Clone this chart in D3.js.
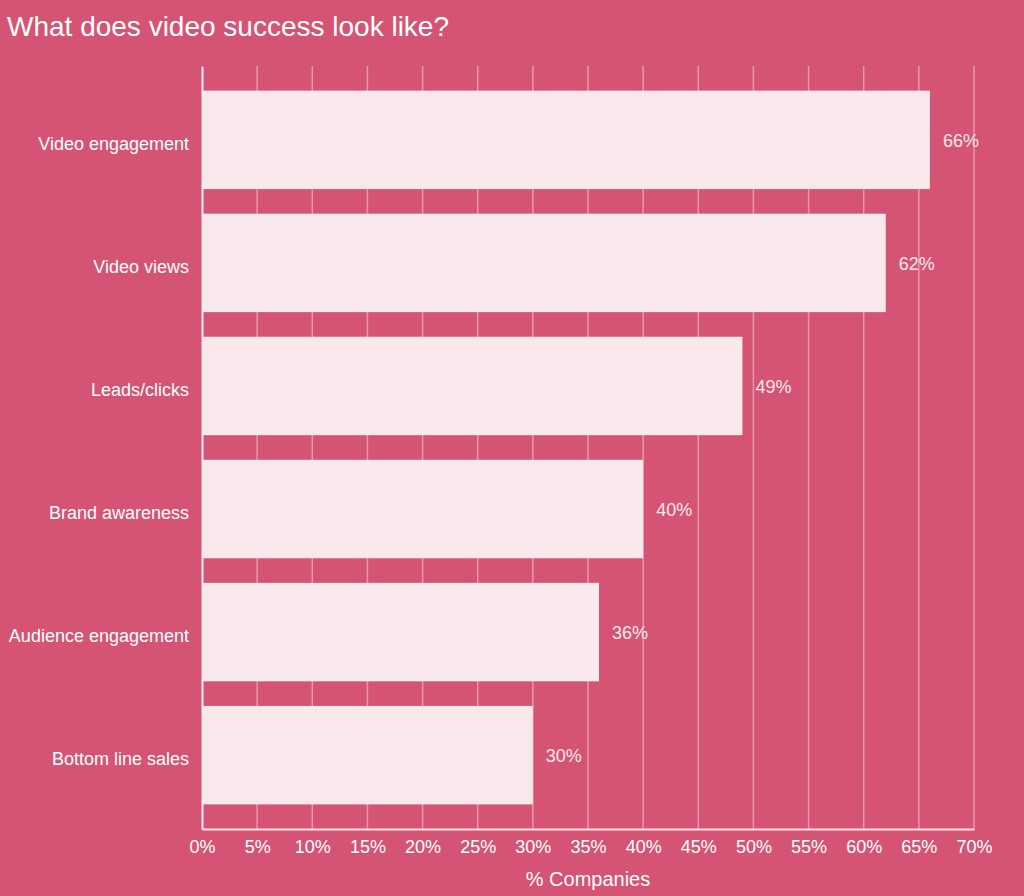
<!DOCTYPE html>
<html><head><meta charset="utf-8">
<script src="https://cdn.jsdelivr.net/npm/d3@7"></script>
<style>html,body{margin:0;padding:0;background:#d65473;}svg{display:block;font-family:"Liberation Sans",Arial,sans-serif;}</style>
</head><body>
<script>
const categories = ["Video engagement","Video views","Leads/clicks","Brand awareness","Audience engagement","Bottom line sales"];
const values = [66,62,49,40,36,30];
const tickValues = [0,5,10,15,20,25,30,35,40,45,50,55,60,65,70];
const title = "What does video success look like?";
const xTitle = "% Companies";

const W=1024,H=896;
const m={left:202,right:50,top:66,bottom:67};
const svg=d3.select("body").append("svg").attr("width",W).attr("height",H);
svg.append("rect").attr("width",W).attr("height",H).attr("fill","#d65473");
const x=d3.scaleLinear().domain([0,70]).range([m.left,W-m.right]);
const y=d3.scaleBand().domain(categories).range([m.top,H-m.bottom]).paddingInner(0.2).paddingOuter(0.2);

svg.append("text").attr("x",7).attr("y",36).attr("fill","#fff").attr("font-size",28).text(title);

// grid
svg.append("g").selectAll("line").data(tickValues.slice(1)).join("line")
 .attr("x1",d=>x(d)).attr("x2",d=>x(d)).attr("y1",m.top).attr("y2",H-m.bottom)
 .attr("stroke","rgba(255,255,255,0.4)").attr("stroke-width",1.5);

// bars
svg.append("g").selectAll("rect").data(values).join("rect")
 .attr("x",x(0)).attr("y",(d,i)=>y(categories[i])).attr("width",d=>x(d)-x(0)).attr("height",y.bandwidth())
 .attr("fill","#f9e9ec");

// value labels
svg.append("g").selectAll("text").data(values).join("text")
 .attr("x",d=>x(d)+13).attr("y",(d,i)=>y(categories[i])+y.bandwidth()/2+7)
 .attr("fill","#f9e9ec").attr("font-size",18).text(d=>d+"%");

// axes
const xAxis=svg.append("g").attr("transform",`translate(0,${H-m.bottom})`)
 .call(d3.axisBottom(x).tickValues(tickValues).tickFormat(d=>d+"%").tickSize(0).tickPadding(11));
xAxis.select(".domain").attr("stroke","#fbe9ee").attr("stroke-width",2);
xAxis.selectAll("text").attr("fill","#fff").attr("font-size",18).attr("font-family","Liberation Sans, Arial, sans-serif");

const yAxis=svg.append("g").attr("transform",`translate(${m.left},0)`)
 .call(d3.axisLeft(y).tickSize(0).tickPadding(13));
yAxis.select(".domain").attr("stroke","#fbe9ee").attr("stroke-width",2);
yAxis.selectAll("text").attr("fill","#fff").attr("font-size",18).attr("font-family","Liberation Sans, Arial, sans-serif")
 .attr("dy",null).attr("y",10);

svg.append("text").attr("x",(x(0)+x(70))/2).attr("y",886).attr("text-anchor","middle")
 .attr("fill","#fff").attr("font-size",20).text(xTitle);
</script>
</body></html>
